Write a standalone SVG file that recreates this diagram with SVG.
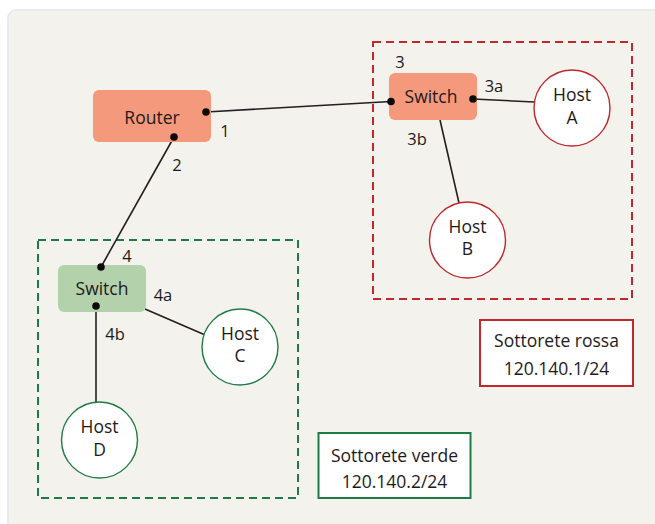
<svg xmlns="http://www.w3.org/2000/svg" width="655" height="524" viewBox="0 0 655 524">
  <style>
    text { font-family: "Open Sans", "Noto Sans", sans-serif; font-size: 17.5px; fill: #1e1a1b; text-anchor: middle; }
    .port { font-size: 16.5px; }
    .link { stroke: #231f20; stroke-width: 1.6; fill: none; }
    .dot { fill: #0d0a0a; }
    .host-red { fill: #ffffff; stroke: #c1272d; stroke-width: 1.4; }
    .host-green { fill: #ffffff; stroke: #1f7a45; stroke-width: 1.4; }
    .zone-red { fill: none; stroke: #c1272d; stroke-width: 2; stroke-dasharray: 8 5; }
    .zone-green { fill: none; stroke: #1f7a45; stroke-width: 2; stroke-dasharray: 8 5; }
  </style>

  <!-- page background -->
  <rect x="0" y="0" width="655" height="524" fill="#ffffff"/>
  <rect x="8" y="10" width="700" height="600" rx="8" fill="#f4f2ed" stroke="#e1e6ee" stroke-width="1.5"/>

  <!-- subnet zones -->
  <rect class="zone-red" x="373" y="42" width="259" height="257"/>
  <rect class="zone-green" x="38" y="240" width="260" height="258"/>

  <!-- connectors -->
  <g id="connectors">
    <line class="link" x1="206" y1="112" x2="391" y2="101.5"/>
    <line class="link" x1="174" y1="137" x2="101" y2="267"/>
    <line class="link" x1="473" y1="99" x2="534" y2="102"/>
    <line class="link" x1="440" y1="120" x2="459" y2="203"/>
    <line class="link" x1="145" y1="309" x2="204" y2="334.5"/>
    <line class="link" x1="96" y1="306" x2="96" y2="403" stroke-width="2.8"/>
  </g>

  <g id="router">
    <rect x="93" y="90" width="118" height="52" rx="6" fill="#f4997b"/>
    <text x="152" y="124">Router</text>
    <circle class="dot" cx="206" cy="112" r="3.8"/>
    <circle class="dot" cx="174" cy="137" r="3.8"/>
    <text class="port" x="225" y="137">1</text>
    <text class="port" x="177" y="171">2</text>
  </g>

  <g id="switch-red">
    <rect x="389" y="73" width="88" height="47" rx="6" fill="#f4997b"/>
    <text x="431" y="103">Switch</text>
    <circle class="dot" cx="391" cy="101.5" r="3.8"/>
    <circle class="dot" cx="473" cy="99" r="3.8"/>
    <text class="port" x="400" y="68">3</text>
    <text class="port" x="494" y="92">3a</text>
    <text class="port" x="417" y="145">3b</text>
  </g>

  <g id="host-a">
    <circle class="host-red" cx="572" cy="108" r="38"/>
    <text x="572" y="101">Host</text>
    <text x="572" y="124">A</text>
  </g>

  <g id="host-b">
    <circle class="host-red" cx="467.5" cy="240" r="38"/>
    <text x="467.5" y="233">Host</text>
    <text x="467.5" y="255">B</text>
  </g>

  <g id="switch-green">
    <rect x="58" y="265" width="88" height="47" rx="6" fill="#b3d2ac"/>
    <text x="102" y="295">Switch</text>
    <circle class="dot" cx="101" cy="267" r="3.8"/>
    <circle class="dot" cx="96" cy="306" r="3.8"/>
    <text class="port" x="127" y="262">4</text>
    <text class="port" x="163" y="301">4a</text>
    <text class="port" x="115" y="340">4b</text>
  </g>

  <g id="host-c">
    <circle class="host-green" cx="240" cy="347" r="38"/>
    <text x="240" y="340">Host</text>
    <text x="240" y="362">C</text>
  </g>

  <g id="host-d">
    <circle class="host-green" cx="99.5" cy="440" r="38"/>
    <text x="99.5" y="433">Host</text>
    <text x="99.5" y="456">D</text>
  </g>

  <g id="legend-red">
    <rect x="480" y="320" width="153" height="66" fill="#ffffff" stroke="#c1272d" stroke-width="2"/>
    <text x="556.5" y="347">Sottorete rossa</text>
    <text x="556.5" y="375">120.140.1/24</text>
  </g>

  <g id="legend-green">
    <rect x="318.5" y="433" width="152" height="65" fill="#ffffff" stroke="#1f7a45" stroke-width="2"/>
    <text x="394.5" y="462">Sottorete verde</text>
    <text x="394.5" y="488">120.140.2/24</text>
  </g>
</svg>
